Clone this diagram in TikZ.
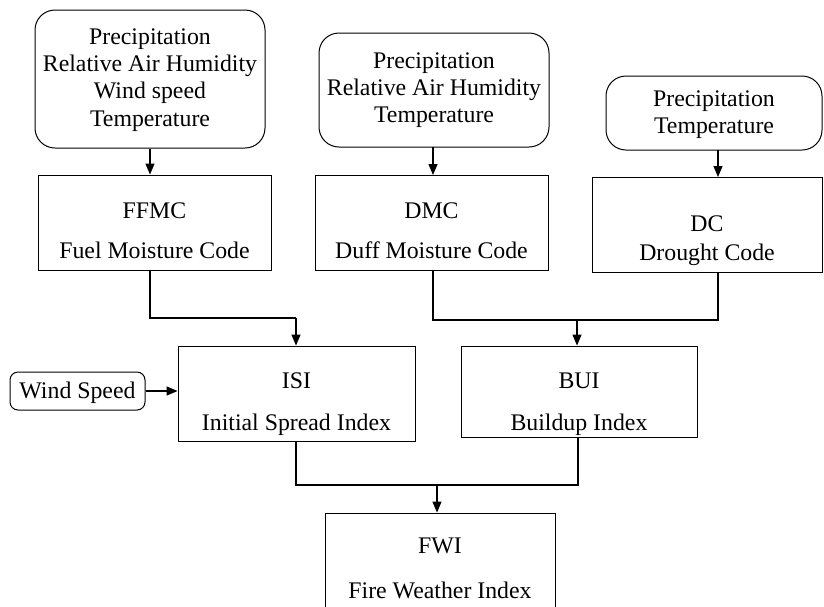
\documentclass[tikz,border=0pt]{standalone}
\usepackage{fontspec}
\setmainfont{Liberation Serif}
\newfontfamily\tnr{Liberation Serif}
\usetikzlibrary{arrows.meta}
\begin{document}
\begin{tikzpicture}[x=1pt,y=-1pt,
  every node/.style={font=\tnr\fontsize{23.8}{27.2}\selectfont, align=center, inner sep=0pt},
  inbox/.style={draw, line width=1pt, rounded corners=20pt},
  idxbox/.style={draw, line width=0.9pt},
  conn/.style={line width=1.2pt},
  arr/.style={line width=1.2pt, -{Triangle[length=11pt,width=9pt]}}]
\useasboundingbox (0,0) rectangle (824,606);
\clip (0,0) rectangle (824,606);
% input boxes
\node[inbox, minimum width=230pt, minimum height=138pt] (in1) at (150,79) {};
\node (in1T) at (150,80) {Precipitation\\Relative Air Humidity\\Wind speed\\Temperature};
\node[inbox, minimum width=230pt, minimum height=114pt] (in2) at (434,90) {};
\node (in2T) at (434,90) {Precipitation\\Relative Air Humidity\\Temperature};
\node[inbox, minimum width=216pt, minimum height=74pt] (in3) at (714,113) {};
\node (in3T) at (714,115) {Precipitation\\Temperature};
\node[inbox, rounded corners=8pt, minimum width=135pt, minimum height=38pt] (ws) at (77.5,391) {};
\node (wsT) at (77.5,393) {Wind Speed};
% index boxes
\node[idxbox, minimum width=233pt, minimum height=95pt] (ffmc) at (154.5,222.5) {};
\node (ffmcT) at (154.5,231) {FFMC\\[13pt]Fuel Moisture Code};
\node[idxbox, minimum width=233pt, minimum height=95pt] (dmc) at (431.5,222.5) {};
\node (dmcT) at (431.5,231) {DMC\\[13pt]Duff Moisture Code};
\node[idxbox, minimum width=230pt, minimum height=95pt] (dc) at (707,224.5) {};
\node (dcT) at (707,241) {DC\\[2pt]Drought Code};
\node[idxbox, minimum width=237pt, minimum height=95pt] (isi) at (296.5,393.5) {};
\node (isiT) at (296.5,404) {ISI\\[15pt]Initial Spread Index};
\node[idxbox, minimum width=236pt, minimum height=91pt] (bui) at (579,391.5) {};
\node (buiT) at (579,404) {BUI\\[15pt]Buildup Index};
\node[idxbox, minimum width=230pt, minimum height=130pt] (fwi) at (440,578) {};
\node (fwiT) at (440,568) {FWI\\[18pt]Fire Weather Index};
% coordinates for junctions
\coordinate (j1) at (150,318);
\coordinate (j1b) at (296,318);
\coordinate (j2a) at (433,320);
\coordinate (j2b) at (718,320);
\coordinate (j2c) at (577,320);
\coordinate (j3a) at (296,485);
\coordinate (j3b) at (578,485);
\coordinate (j3c) at (437,485);
% arrows from inputs
\draw[arr] (in1.south) -- (in1.south |- ffmc.north);
\draw[arr] (433,147) -- (433,175);
\draw[arr] (718,150) -- (718,177);
\draw[arr] (ws.east) -- (ws.east -| isi.west);
% FFMC -> ISI
\draw[conn] (in1.south |- ffmc.south) -- (j1) -- (j1b);
\draw[arr] (j1b) -- (j1b |- isi.north);
% DMC, DC -> BUI
\draw[conn] (j2a |- dmc.south) -- (j2a) -- (j2b) -- (j2b |- dc.south);
\draw[arr] (j2c) -- (j2c |- bui.north);
% ISI, BUI -> FWI
\draw[conn] (j3a |- isi.south) -- (j3a) -- (j3b) -- (j3b |- bui.south);
\draw[arr] (j3c) -- (j3c |- fwi.north);
\end{tikzpicture}
\end{document}
